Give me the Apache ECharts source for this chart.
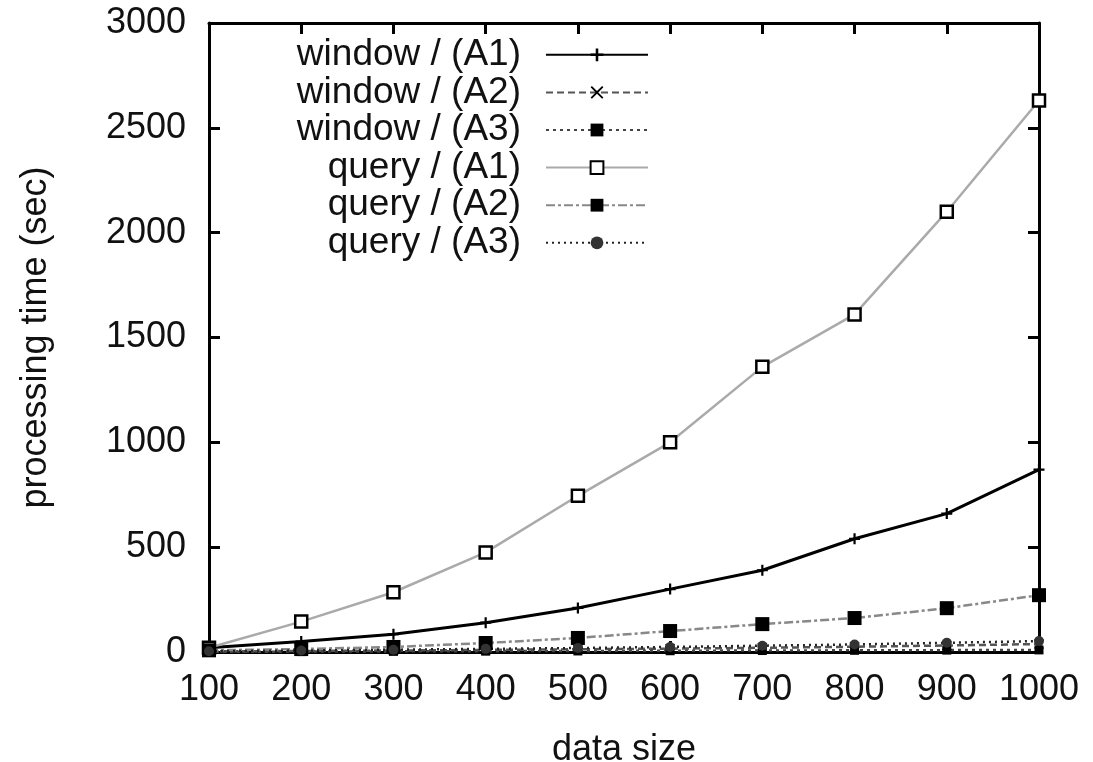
<!DOCTYPE html>
<html>
<head>
<meta charset="utf-8">
<script src="https://cdn.jsdelivr.net/npm/echarts@6/dist/echarts.min.js"></script>
<style>
  html, body { margin: 0; padding: 0; background: #fff; }
  #chart { width: 1093px; height: 762px; }
</style>
</head>
<body>
<div id="chart"></div>
<script>
// data sizes on the x axis
var dataSizes = [100, 200, 300, 400, 500, 600, 700, 800, 900, 1000];

// processing time (sec)
var windowA1 = [20, 50, 85, 140, 210, 300, 390, 540, 660, 870];
var windowA2 = [3, 5, 7, 10, 13, 16, 20, 25, 31, 38];
var windowA3 = [1, 2, 3, 4, 5, 6, 7, 8, 9, 10];
var queryA1 = [20, 145, 285, 475, 745, 1000, 1360, 1610, 2100, 2630];
var queryA2 = [8, 14, 24, 43, 67, 100, 133, 162, 209, 271];
var queryA3 = [4, 7, 11, 15, 19, 24, 30, 36, 44, 52];

var yTicks = [0, 500, 1000, 1500, 2000, 2500, 3000];

var FONT = "Liberation Sans";
var plusPath = "path://M4,0h2v4h4v2h-4v4h-2v-4h-4v-2h4z";
var crossPath = "path://M1,0L5,4L9,0L10,1L6,5L10,9L9,10L5,6L1,10L0,9L4,5L0,1Z";

function pairs(vals) {
  return dataSizes.map(function (x, i) { return [x, vals[i]]; });
}

function plain(v) {
  return String(v);
}

function mkSeries(name, vals, lineColor, lineType, width, symbol, size, symColor, symBorder) {
  return {
    name: name,
    type: "line",
    data: pairs(vals),
    symbol: symbol,
    symbolSize: size,
    showAllSymbol: true,
    animation: false,
    lineStyle: { color: lineColor, width: width, type: lineType },
    itemStyle: {
      color: symColor,
      borderColor: symBorder || symColor,
      borderWidth: symBorder ? 2.5 : 0,
    },
    emphasis: { disabled: true },
  };
}

var chart = echarts.init(document.getElementById("chart"), null, { renderer: "canvas" });

var axisBase = {
  axisLine: { show: true, onZero: false, lineStyle: { color: "#000", width: 3 } },
  axisTick: { show: true, inside: true, length: 11, lineStyle: { color: "#000", width: 3 } },
  splitLine: { show: false },
};

chart.setOption({
  backgroundColor: "#fff",
  animation: false,
  grid: {
    left: 209,
    right: 54,
    top: 23,
    bottom: 110,
    containLabel: false,
    outerBoundsMode: "none",
  },
  legend: {
    orient: "vertical",
    align: "right",
    right: 444,
    top: 36,
    padding: 0,
    itemGap: 0,
    itemWidth: 102,
    itemHeight: 16,
    textStyle: {
      fontFamily: FONT,
      fontSize: 37,
      color: "#111",
      lineHeight: 37.6,
      padding: [0, 20, 0, 0],
    },
    data: ["window / (A1)", "window / (A2)", "window / (A3)", "query / (A1)", "query / (A2)", "query / (A3)"],
  },
  xAxis: [
    Object.assign({}, axisBase, {
      type: "value",
      min: 100,
      max: 1000,
      interval: 100,
      name: "data size",
      nameLocation: "middle",
      nameGap: 80,
      nameTextStyle: { fontFamily: FONT, fontSize: 36, color: "#111" },
      axisLabel: { fontFamily: FONT, fontSize: 36, color: "#111", margin: 20, formatter: plain },
    }),
    Object.assign({}, axisBase, {
      type: "value",
      position: "top",
      min: 100,
      max: 1000,
      interval: 100,
      axisLabel: { show: false },
    }),
  ],
  yAxis: [
    Object.assign({}, axisBase, {
      type: "value",
      min: yTicks[0],
      max: yTicks[yTicks.length - 1],
      interval: 500,
      name: "processing time (sec)",
      nameLocation: "middle",
      nameGap: 155,
      nameRotate: 90,
      nameTextStyle: { fontFamily: FONT, fontSize: 36, color: "#111" },
      axisLabel: { fontFamily: FONT, fontSize: 36, color: "#111", margin: 23, formatter: plain },
    }),
    Object.assign({}, axisBase, {
      type: "value",
      position: "right",
      min: yTicks[0],
      max: yTicks[yTicks.length - 1],
      interval: 500,
      axisLabel: { show: false },
    }),
  ],
  series: [
    mkSeries("window / (A1)", windowA1, "#000", "solid", 3, plusPath, 11, "#000"),
    mkSeries("window / (A2)", windowA2, "#555", [7, 4], 2.5, crossPath, 10, "#000"),
    mkSeries("window / (A3)", windowA3, "#444", [3, 4], 2.5, "rect", 9, "#000"),
    mkSeries("query / (A1)", queryA1, "#aaa", "solid", 2.5, "rect", 12, "#fff", "#000"),
    mkSeries("query / (A2)", queryA2, "#888", [9, 3, 3, 3], 2.5, "rect", 14, "#000"),
    mkSeries("query / (A3)", queryA3, "#222", [2, 4], 2.5, "circle", 10, "#333"),
  ],
});
</script>
</body>
</html>
